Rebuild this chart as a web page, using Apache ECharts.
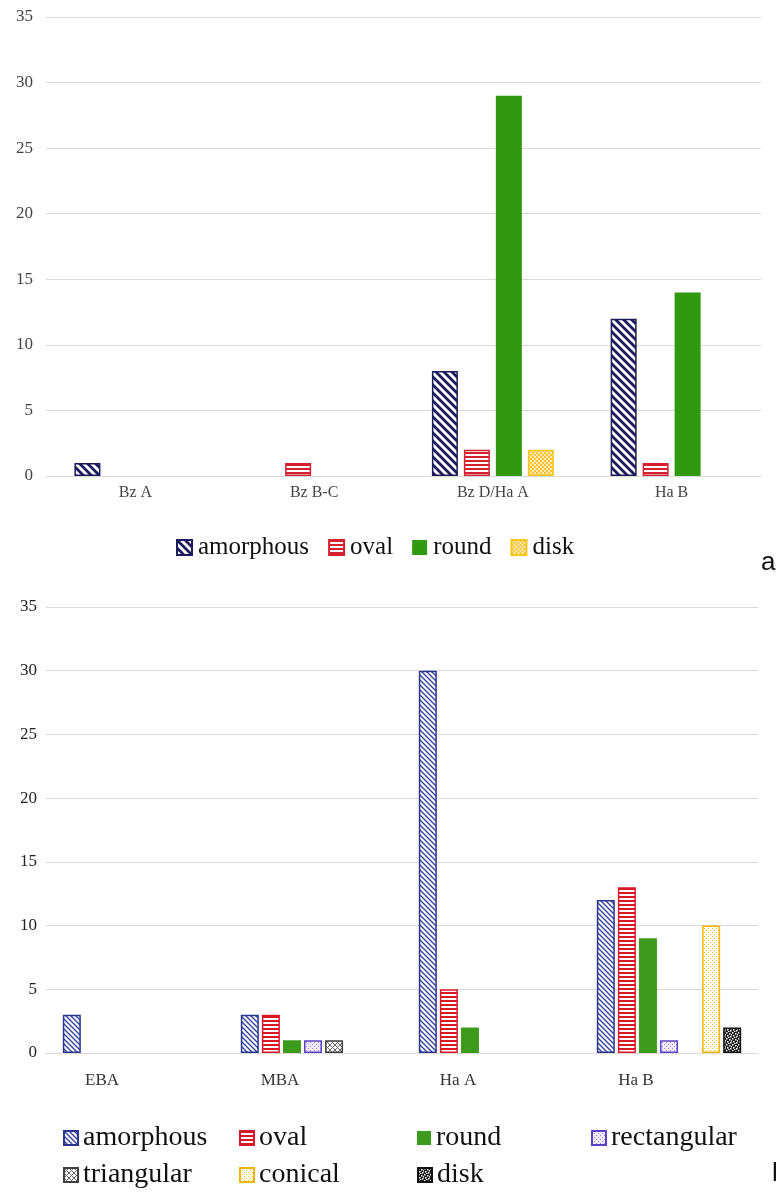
<!DOCTYPE html>
<html>
<head>
<meta charset="utf-8">
<script src="https://cdn.jsdelivr.net/npm/echarts@6/dist/echarts.min.js"></script>
<style>
  html, body { margin: 0; padding: 0; background: #fff; }
  #main { width: 776px; height: 1200px; }
</style>
</head>
<body>
<div id="main"></div>
<script>
// chart a
const catsA = ['Bz A', 'Bz B-C', 'Bz D/Ha A', 'Ha B'];
const amorphousA = [1, 0, 8, 12];
const ovalA = [0, 1, 2, 1];
const roundA = [0, 0, 29, 14];
const diskA = [0, 0, 2, 0];

// chart b
const catsB = ['EBA', 'MBA', 'Ha A', 'Ha B'];
const amorphousB = [3, 3, 30, 12];
const ovalB = [0, 3, 5, 13];
const roundB = [0, 1, 2, 9];
const rectangularB = [0, 1, 0, 1];
const triangularB = [0, 1, 0, 0];
const conicalB = [0, 0, 0, 10];
const diskB = [0, 0, 0, 2];

const yMax = 35;
const yStep = 5;

const serif = '"Liberation Serif", "DejaVu Serif", serif';

// small canvas fills, like the excel pattern fills
function pat(w, h, draw) {
  const c = document.createElement('canvas');
  c.width = w; c.height = h;
  draw(c.getContext('2d'));
  return { image: c, repeat: 'repeat' };
}
function diag(fg, bg, p, lw) {
  return pat(p, p, ctx => {
    ctx.fillStyle = bg; ctx.fillRect(0, 0, p, p);
    ctx.strokeStyle = fg; ctx.lineWidth = lw;
    ctx.beginPath();
    // lines run past the tile so the joins have no gaps
    for (let k = -p; k <= p; k += p) { ctx.moveTo(k - p, -p); ctx.lineTo(k + 2 * p, 2 * p); }
    ctx.stroke();
  });
}
function hstripe(fg, bg, p, lw) {
  return pat(4, p, ctx => {
    ctx.fillStyle = bg; ctx.fillRect(0, 0, 4, p);
    ctx.fillStyle = fg; ctx.fillRect(0, 0, 4, lw);
  });
}
function dots(fg, bg, p, pts, s) {
  return pat(p, p, ctx => {
    ctx.fillStyle = bg; ctx.fillRect(0, 0, p, p);
    ctx.fillStyle = fg;
    pts.forEach(d => ctx.fillRect(d[0], d[1], s || 1, s || 1));
  });
}
function cross(fg, bg, p) {
  return pat(p, p, ctx => {
    ctx.fillStyle = bg; ctx.fillRect(0, 0, p, p);
    ctx.strokeStyle = fg; ctx.lineWidth = 1;
    ctx.beginPath();
    ctx.moveTo(0, 0); ctx.lineTo(p, p);
    ctx.moveTo(p, 0); ctx.lineTo(0, p);
    ctx.stroke();
  });
}

const styleA = {
  amorphous: { color: diag('#1b1b5e', '#ffffff', 8, 2.8), borderColor: '#1b1b5e', borderWidth: 1.5 },
  oval: { color: hstripe('#d42030', '#ffffff', 4, 2), borderColor: '#d42030', borderWidth: 1.5 },
  round: { color: '#2f9a10' },
  disk: { color: dots('#f3c23a', '#fdeeb0', 4, [[0, 0], [2, 2]], 2), borderColor: '#f5c518', borderWidth: 1.5 }
};
const styleB = {
  amorphous: { color: diag('#34449a', '#ffffff', 5, 1.4), borderColor: '#2a3590', borderWidth: 1.5 },
  oval: { color: hstripe('#d9182a', '#ffffff', 4, 2), borderColor: '#d9182a', borderWidth: 1.5 },
  round: { color: '#3d9a1c' },
  rectangular: { color: dots('#9a80e0', '#f0eafc', 4, [[0, 0], [2, 2]]), borderColor: '#5b3fc4', borderWidth: 1.5 },
  triangular: { color: cross('#666666', '#ffffff', 5), borderColor: '#404040', borderWidth: 1.5 },
  conical: { color: dots('#f3c300', '#ffffff', 4, [[0, 0], [2, 2]]), borderColor: '#f5b400', borderWidth: 1.5 },
  disk: { color: dots('#ffffff', '#1c1c1c', 6, [[0, 0], [3, 1], [1, 3], [4, 4], [5, 2], [2, 5]], 1.5), borderColor: '#111111', borderWidth: 1.5 }
};

function bar(name, data, idx, style, w, gap) {
  return {
    name: name,
    type: 'bar',
    xAxisIndex: idx,
    yAxisIndex: idx,
    data: data.map(v => (v === 0 ? null : v)),
    barWidth: w,
    barGap: gap,
    itemStyle: style
  };
}

const seriesA = [
  bar('amorphous', amorphousA, 0, styleA.amorphous, 26, '23%'),
  bar('oval', ovalA, 0, styleA.oval, 26, '23%'),
  bar('round', roundA, 0, styleA.round, 26, '23%'),
  bar('disk', diskA, 0, styleA.disk, 26, '23%')
];
// chart b names get a prefix so the legends pick the right style
const seriesB = [
  bar('b:amorphous', amorphousB, 1, styleB.amorphous, 18, '17%'),
  bar('b:oval', ovalB, 1, styleB.oval, 18, '17%'),
  bar('b:round', roundB, 1, styleB.round, 18, '17%'),
  bar('b:rectangular', rectangularB, 1, styleB.rectangular, 18, '17%'),
  bar('b:triangular', triangularB, 1, styleB.triangular, 18, '17%'),
  bar('b:conical', conicalB, 1, styleB.conical, 18, '17%'),
  bar('b:disk', diskB, 1, styleB.disk, 18, '17%')
];

function yAx(idx, color, margin) {
  return {
    gridIndex: idx,
    type: 'value',
    min: 0,
    max: yMax,
    interval: yStep,
    axisLine: { show: false },
    axisTick: { show: false },
    splitLine: { lineStyle: { color: '#d9d9d9', width: 1 } },
    axisLabel: { color: color, fontFamily: serif, fontSize: 17, margin: margin }
  };
}

const legendBase = {
  icon: 'rect',
  itemWidth: 15,
  itemHeight: 15,
  itemGap: 19,
  selectedMode: false,
  textStyle: { fontFamily: serif, fontSize: 25, color: '#111', padding: [0, 0, 0, 1] }
};

const legendB = [
  ['b:amorphous', 58, 1119], ['b:oval', 234, 1119], ['b:round', 412, 1119], ['b:rectangular', 586, 1119],
  ['b:triangular', 58, 1156], ['b:conical', 234, 1156], ['b:disk', 412, 1156]
].map(d => Object.assign({}, legendBase, {
  left: d[1],
  top: d[2],
  itemWidth: 14,
  itemHeight: 14,
  data: [d[0]],
  formatter: n => n.replace('b:', ''),
  textStyle: { fontFamily: serif, fontSize: 28, color: '#111', padding: [0, 0, 0, 0] }
}));

const chart = echarts.init(document.getElementById('main'));
const option = {
  animation: false,
  backgroundColor: '#ffffff',
  grid: [
    { left: 46, width: 715, top: 17, height: 459 },
    { left: 46, width: 712, top: 607, height: 446 }
  ],
  xAxis: [
    {
      gridIndex: 0,
      type: 'category',
      data: catsA,
      axisTick: { show: false },
      axisLine: { lineStyle: { color: '#d9d9d9' } },
      axisLabel: { color: '#444', fontFamily: serif, fontSize: 16, margin: 9 }
    },
    {
      gridIndex: 1,
      type: 'category',
      data: catsB,
      axisTick: { show: false },
      axisLine: { lineStyle: { color: '#d9d9d9' } },
      axisLabel: { color: '#333', fontFamily: serif, fontSize: 17, margin: 19, padding: [0, 66, 0, 0] }
    }
  ],
  yAxis: [yAx(0, '#444', 13), yAx(1, '#222', 9)],
  legend: [
    Object.assign({}, legendBase, {
      left: 171,
      top: 530,
      data: ['amorphous', 'oval', 'round', 'disk']
    })
  ].concat(legendB),
  graphic: [
    { type: 'text', left: 761, top: 550, style: { text: 'a', font: '26px "Liberation Sans", Arial, sans-serif', fill: '#111' } },
    { type: 'text', left: 772, top: 1161, style: { text: 'b', font: '26px "Liberation Sans", Arial, sans-serif', fill: '#111' } }
  ],
  series: seriesA.concat(seriesB)
};
chart.setOption(option);
window.addEventListener('resize', function () {
  chart.resize();
});
</script>
</body>
</html>
